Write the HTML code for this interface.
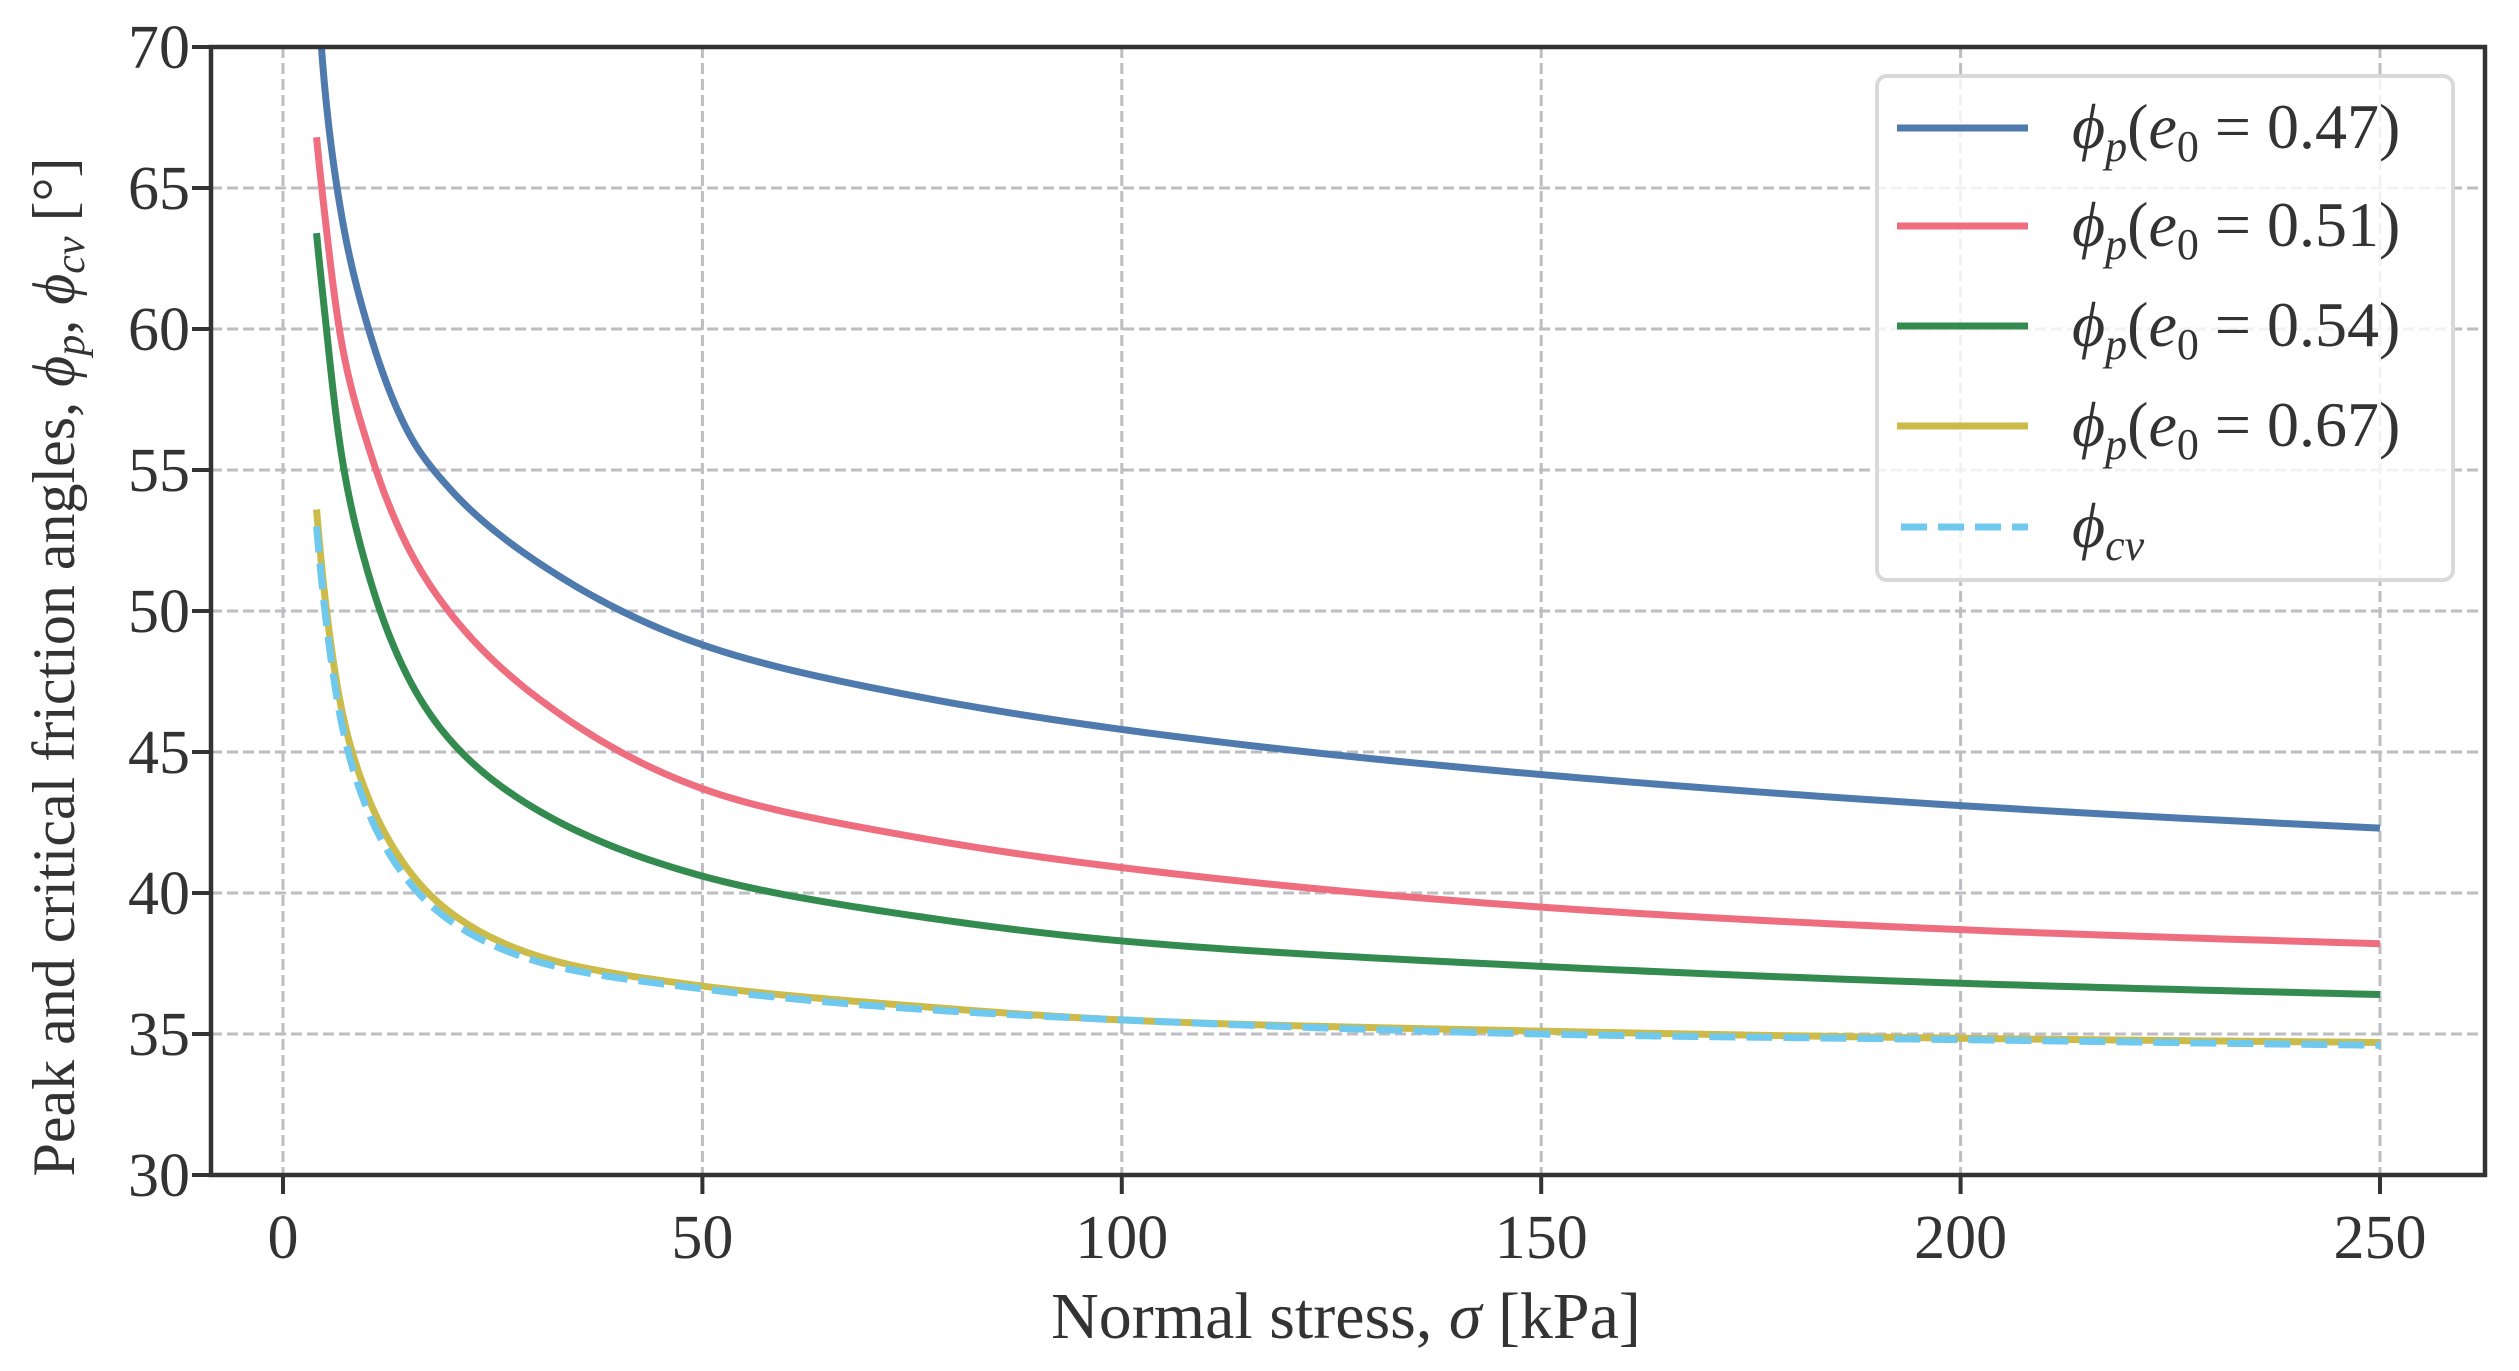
<!DOCTYPE html>
<html><head><meta charset="utf-8"><style>
html,body{margin:0;padding:0;background:#fff;}
svg{display:block;}
text{font-family:"Liberation Serif","DejaVu Serif",serif;fill:#333;}
</style></head><body>
<svg id="chart" width="2519" height="1371" viewBox="0 0 2519 1371" xmlns="http://www.w3.org/2000/svg"></svg>
<script>
const xTicks=[0,50,100,150,200,250];
const yTicks=[30,35,40,45,50,55,60,65,70];
const stress=[4,5,7,10,15,20,30,50,75,100,150,200,250];
const phiP047=[72.5,68.5,64,60.2,56.3,54.3,51.8,48.8,47.0,45.8,44.2,43.1,42.3];
const phiP051=[66.8,64,59.5,56,52.2,49.9,47,43.7,42,40.9,39.5,38.7,38.2];
const phiP054=[63.4,60.5,55.5,51.5,47.6,45.4,43,40.6,39.2,38.3,37.4,36.8,36.4];
const phiP067=[53.6,50.5,46.5,43.5,40.8,39.3,37.8,36.7,36.0,35.5,35.1,34.85,34.7];
const phiCv=[53,50,46,43,40.4,39,37.6,36.6,35.9,35.5,35.0,34.8,34.6];
const seriesNames=["phi-p-e0-047","phi-p-e0-051","phi-p-e0-054","phi-p-e0-067","phi-cv"];
const legendLabels=["0.47","0.51","0.54","0.67"];

const L=211,R=2485,T=47,B=1175;
const X=v=>283+v*(2380-283)/250;
const Y=v=>B-(v-30)*(B-T)/40;
const NS="http://www.w3.org/2000/svg";
const svg=document.getElementById('chart');
function mk(tag,attrs,parent){const e=document.createElementNS(NS,tag);for(const k in attrs)e.setAttribute(k,attrs[k]);(parent||svg).appendChild(e);return e;}

const grid=mk('g',{});


xTicks.forEach(v=>{const l=mk('line',{x1:X(v),x2:X(v),y1:T,y2:B,stroke:'#bdbdc2','stroke-width':3,'stroke-dasharray':'11 5'},grid);

});
yTicks.slice(1,-1).forEach(v=>{const l=mk('line',{x1:L,x2:R,y1:Y(v),y2:Y(v),stroke:'#bdbdc2','stroke-width':3,'stroke-dasharray':'11 5'},grid);

});

const defs=mk('defs',{});
const cp=mk('clipPath',{id:'clip'},defs);
mk('rect',{x:L,y:T,width:R-L,height:B-T},cp);

// monotone cubic interpolation in log(x) space, sampled densely for a smooth curve
function pathFor(xs,ys){
  const u=xs.map(Math.log),n=u.length,d=[],m=[];
  for(let i=0;i<n-1;i++)d.push((ys[i+1]-ys[i])/(u[i+1]-u[i]));
  m[0]=d[0];m[n-1]=d[n-2];
  for(let i=1;i<n-1;i++)m[i]=(d[i-1]*d[i]<=0)?0:(d[i-1]+d[i])/2;
  let s='';
  for(let i=0;i<n-1;i++){
    const h=u[i+1]-u[i];
    for(let k=(i===0?0:1);k<=20;k++){
      const t=k/20,t2=t*t,t3=t2*t;
      const v=(2*t3-3*t2+1)*ys[i]+(t3-2*t2+t)*h*m[i]+(-2*t3+3*t2)*ys[i+1]+(t3-t2)*h*m[i+1];
      const xv=Math.exp(u[i]+t*h);
      s+=(s?' L':'M')+X(xv).toFixed(2)+','+Y(v).toFixed(2);
    }
  }
  return s;
}
const colors=['#4e7aad','#ee6e80','#348b4f','#cdbb49','#6fc9ee'];
const allSeries=[phiP047,phiP051,phiP054,phiP067,phiCv];
const lines=mk('g',{'clip-path':'url(#clip)'});
allSeries.forEach((ys,i)=>{
  const p=mk('path',{d:pathFor(stress,ys),fill:'none',stroke:colors[i],'stroke-width':7,'stroke-linejoin':'round'},lines);
  if(i===4)p.setAttribute('stroke-dasharray','26 11');
  
  
});

const ax=mk('g',{});


mk('rect',{x:L,y:T,width:R-L,height:B-T,fill:'none',stroke:'#333','stroke-width':4.5},ax);
xTicks.forEach(v=>{mk('line',{x1:X(v),x2:X(v),y1:B,y2:B+19,stroke:'#333','stroke-width':4},ax);
 const t=mk('text',{x:X(v),y:B+83,'text-anchor':'middle','font-size':62},ax);t.textContent=v;
 
 });
yTicks.forEach(v=>{mk('line',{x1:L-19,x2:L,y1:Y(v),y2:Y(v),stroke:'#333','stroke-width':4},ax);
 const t=mk('text',{x:190,y:Y(v)+21,'text-anchor':'end','font-size':62},ax);t.textContent=v;
 
 });

const lg=mk('g',{});


mk('rect',{x:1877,y:76,width:576,height:504,rx:10,fill:'rgba(255,255,255,0.8)',stroke:'#d9d9d9','stroke-width':4},lg);
const ly=[128,226,326,426,527];
for(let i=0;i<5;i++){
  const ln=mk('line',{x1:1897,x2:2028,y1:ly[i],y2:ly[i],stroke:colors[i],'stroke-width':7},lg);
  if(i===4){ln.setAttribute('stroke-dasharray','26 11');ln.setAttribute('x1',1901);}
  
  
  const t=mk('text',{x:2072,y:ly[i]+20,'font-size':64},lg);
  if(i<4){t.innerHTML='<tspan font-style="italic">ϕ</tspan><tspan font-style="italic" font-size="44" dy="13">p</tspan><tspan dy="-13">(</tspan><tspan font-style="italic">e</tspan><tspan font-size="44" dy="13">0</tspan><tspan dy="-13"> = '+legendLabels[i]+')</tspan>';}
  else{t.innerHTML='<tspan font-style="italic">ϕ</tspan><tspan font-style="italic" font-size="44" dy="13">cv</tspan>';}
  
  
}

const xl=mk('text',{x:1346,y:1338,'text-anchor':'middle','font-size':66});
xl.innerHTML='Normal stress, <tspan font-style="italic">σ</tspan> [kPa]';


const yl=mk('text',{transform:'translate(74,667) rotate(-90)','text-anchor':'middle','font-size':60});
yl.innerHTML='Peak and critical friction angles, <tspan font-style="italic">ϕ</tspan><tspan font-style="italic" font-size="42" dy="10">p</tspan><tspan dy="-10">, </tspan><tspan font-style="italic">ϕ</tspan><tspan font-style="italic" font-size="42" dy="10">cv</tspan><tspan dy="-10"> [°]</tspan>';


</script>
</body></html>
